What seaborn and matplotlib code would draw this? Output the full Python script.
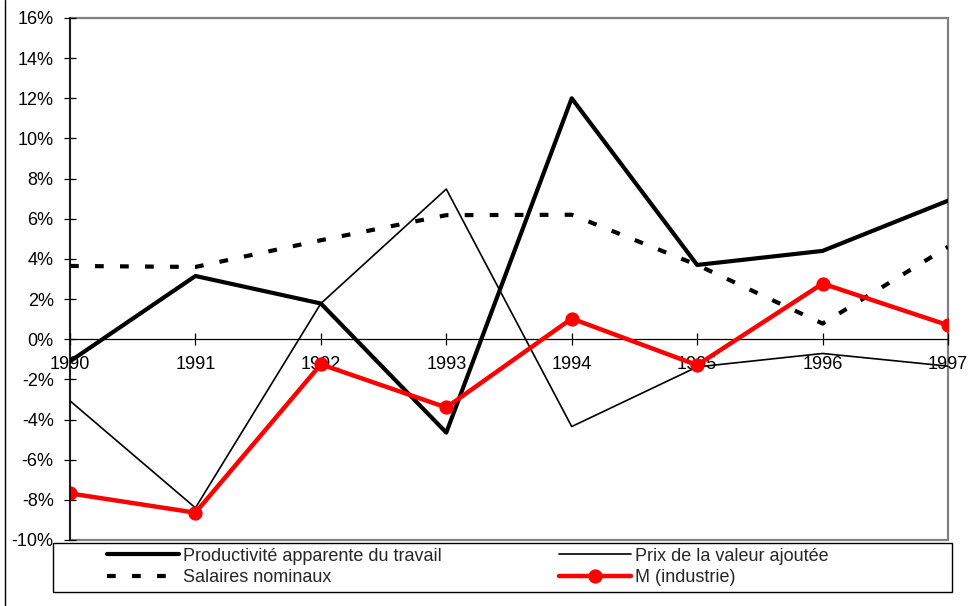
import matplotlib
matplotlib.use("Agg")
import matplotlib.pyplot as plt
import seaborn as sns
from matplotlib.ticker import FuncFormatter
from matplotlib.lines import Line2D
from matplotlib.patches import Rectangle

# Annual growth rates, in percent
years = [1990, 1991, 1992, 1993, 1994, 1995, 1996, 1997]
productivite = [-1.1, 3.15, 1.78, -4.65, 12.0, 3.7, 4.4, 6.9]
prix_va = [-3.07, -8.4, 1.78, 7.48, -4.35, -1.38, -0.71, -1.34]
salaires = [3.65, 3.6, 4.93, 6.18, 6.2, 3.7, 0.78, 4.6]
m_industrie = [-7.68, -8.64, -1.25, -3.4, 1.03, -1.29, 2.77, 0.7]

labels = [
    "Productivité apparente du travail",
    "Prix de la valeur ajoutée",
    "Salaires nominaux",
    "M (industrie)",
]
y_ticks = list(range(-10, 17, 2))

sns.set_style("white")
plt.rcParams["font.family"] = ["Liberation Sans", "DejaVu Sans"]

W, H = 971, 606
FS = 13
fig = plt.figure(figsize=(W / 100, H / 100), dpi=100)
ax = fig.add_axes([70 / W, 1 - 540 / H, 878 / W, 522 / H])

sns.lineplot(x=years, y=productivite, ax=ax, color="black", linewidth=3.0,
             label=labels[0])
sns.lineplot(x=years, y=prix_va, ax=ax, color="black", linewidth=1.2,
             label=labels[1])
sns.lineplot(x=years, y=salaires, ax=ax, color="black", linewidth=3.0,
             linestyle=(0, (2.1, 3.9)), label=labels[2])
sns.lineplot(x=years, y=m_industrie, ax=ax, color="#ff0000", linewidth=3.2,
             marker="o", markersize=9.5, markeredgecolor="#ff0000",
             markerfacecolor="#ff0000", label=labels[3])

ax.set_xlim(years[0], years[-1])
ax.set_ylim(y_ticks[0], y_ticks[-1])
ax.set_xticks(years)
ax.set_yticks(y_ticks)
ax.yaxis.set_major_formatter(FuncFormatter(lambda v, _: f"{v:.0f}%"))
ax.set_xlabel("")
ax.set_ylabel("")

# plot-area frame in grey, value axis in black, category axis on the zero line
ax.patch.set_edgecolor("#808080")
ax.patch.set_linewidth(1.6)
for side in ("top", "right"):
    ax.spines[side].set_visible(False)
ax.spines["left"].set_color("black")
ax.spines["left"].set_linewidth(1.1)
ax.spines["bottom"].set_position(("data", 0))
ax.spines["bottom"].set_color("black")
ax.spines["bottom"].set_linewidth(0.9)
ax.spines["bottom"].set_zorder(1)

ax.tick_params(axis="both", direction="inout", length=8.5, width=0.9,
               colors="black", labelsize=FS, pad=7.5, bottom=True, left=True)
for t in ax.get_xticklabels() + ax.get_yticklabels():
    t.set_color("black")

handles, labs = ax.get_legend_handles_labels()
ax.get_legend().remove()

# legend: framed box below the plot, two columns
fig.add_artist(Rectangle((53 / W, 1 - 592 / H), 899 / W, 49 / H,
                         transform=fig.transFigure, fill=False,
                         edgecolor="black", linewidth=1.0))
common = dict(loc="center left", frameon=False, fontsize=FS,
              handlelength=4.0, handletextpad=0.22, borderpad=0,
              borderaxespad=0, labelspacing=0.25)
fig.legend([handles[0], handles[2]], [labs[0], labs[2]],
           bbox_to_anchor=(107 / W, 1 - 567 / H), **common)
fig.legend([handles[1], handles[3]], [labs[1], labs[3]],
           bbox_to_anchor=(559 / W, 1 - 567 / H), **common)

# outer chart border on the left edge
fig.add_artist(Line2D([4.5 / W, 4.5 / W], [0, 1], color="black", lw=1.0))

fig.savefig("out.png", dpi=100)
